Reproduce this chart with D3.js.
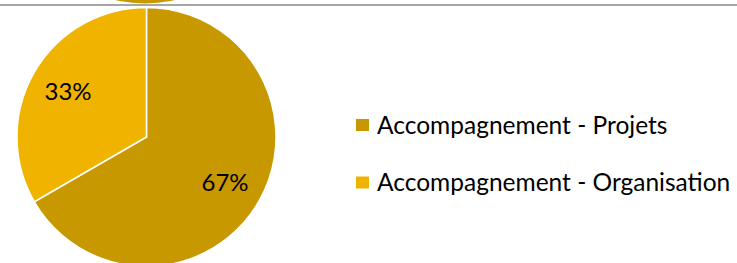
<!DOCTYPE html>
<html>
<head>
<meta charset="utf-8">
<script src="https://cdn.jsdelivr.net/npm/d3@7"></script>
<style>
  html, body { margin: 0; padding: 0; background: #fff; }
  svg { display: block; }
</style>
</head>
<body>
<div id="chart"></div>
<script>
// data
var categories = ["Accompagnement - Projets", "Accompagnement - Organisation"];
var values = [2, 1];
var colors = ["#C89800", "#F0B400"];

var width = 737, height = 263;
var cx = 146.5, cy = 137, radius = 129.5;
var font = "Lato, 'Open Sans', sans-serif";

var svg = d3.select("#chart")
	.append("svg")
	.attr("width", width)
	.attr("height", height);

// bit of the previous chart peeking above the separator
svg.append("circle")
	.attr("cx", 145)
	.attr("cy", 3.5 - 130)
	.attr("r", 130)
	.attr("fill", colors[0]);

svg.append("line")
	.attr("x1", 0).attr("x2", width)
	.attr("y1", 5).attr("y2", 5)
	.attr("stroke", "#a6a6a6")
	.attr("stroke-width", 2);

var total = d3.sum(values);
var pie = d3.pie().sort(null).value(function(d) { return d; });
var arc = d3.arc().innerRadius(0).outerRadius(radius);
var labelArc = d3.arc().innerRadius(radius * 0.7).outerRadius(radius * 0.7);

var g = svg.append("g").attr("transform", "translate(" + cx + "," + cy + ")");

var slices = pie(values);

g.selectAll("path")
	.data(slices)
	.enter()
	.append("path")
	.attr("d", arc)
	.attr("fill", function(d, i) { return colors[i]; })
	.attr("stroke", "#fff")
	.attr("stroke-width", 1.5);

g.selectAll("text")
	.data(slices)
	.enter()
	.append("text")
	.attr("transform", function(d) { return "translate(" + labelArc.centroid(d) + ")"; })
	.attr("text-anchor", "middle")
	.attr("dy", "0.35em")
	.attr("font-family", font)
	.attr("font-size", "24px")
	.attr("fill", "#000")
	.text(function(d) { return Math.round(d.value / total * 100) + "%"; });

// legend
var legend = svg.selectAll(".legend")
	.data(categories)
	.enter()
	.append("g")
	.attr("class", "legend")
	.attr("transform", function(d, i) { return "translate(356," + (119 + i * 57.5) + ")"; });

legend.append("rect")
	.attr("width", 13)
	.attr("height", 12)
	.attr("fill", function(d, i) { return colors[i]; });

legend.append("text")
	.attr("x", 21)
	.attr("y", 14.5)
	.attr("font-family", font)
	.attr("font-size", "24.5px")
	.attr("fill", "#000")
	.text(function(d) { return d; });
</script>
</body>
</html>
